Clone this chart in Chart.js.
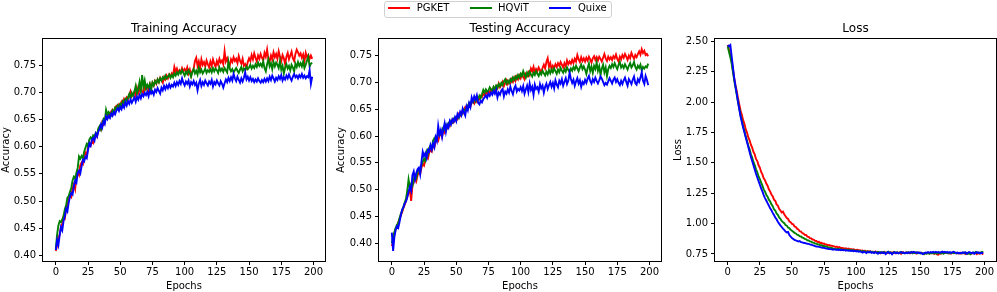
<!DOCTYPE html>
<html><head><meta charset="utf-8">
<script src="https://cdn.jsdelivr.net/npm/chart.js@4.4.1/dist/chart.umd.min.js"></script>
<style>
html,body{margin:0;padding:0;background:#fff;width:997px;height:292px;overflow:hidden;position:relative;}
canvas{position:absolute;top:0;}
#legend{position:absolute;left:384px;top:1px;width:226px;height:15px;border:1px solid #d0d0d0;border-radius:3px;background:#fff;font:10px 'DejaVu Sans',sans-serif;}
.ln{position:absolute;top:5px;width:22px;height:2px;}
.lt{position:absolute;top:0px;line-height:12px;color:#000;white-space:nowrap;}
</style></head><body>
<canvas id="c1" width="335" height="292" style="left:0px"></canvas>
<canvas id="c2" width="337" height="292" style="left:335px"></canvas>
<canvas id="c3" width="325" height="292" style="left:672px"></canvas>
<div id="legend"></div>
<script>
// ---------- DATA ----------
const epochs = Array.from({length: 200}, (_, i) => i);
const seriesNames = ['PGKET', 'HQViT', 'Quixe'];
const seriesColors = ['#ff0000', '#008000', '#0000ff'];
const xTicks = [0, 25, 50, 75, 100, 125, 150, 175, 200];
const accTicks = [0.40, 0.45, 0.50, 0.55, 0.60, 0.65, 0.70, 0.75];
const lossTicks = [0.75, 1.00, 1.25, 1.50, 1.75, 2.00, 2.25, 2.50];

const trainPGKET = [
0.408,0.418,0.432,0.438,0.452,0.458,0.471,0.468,0.486,0.492,
0.503,0.512,0.508,0.524,0.531,0.522,0.545,0.553,0.548,0.566,
0.571,0.568,0.582,0.589,0.585,0.598,0.605,0.602,0.611,0.607,
0.615,0.624,0.619,0.631,0.637,0.632,0.645,0.641,0.649,0.655,
0.652,0.661,0.656,0.665,0.668,0.662,0.671,0.675,0.672,0.678,
0.676,0.683,0.679,0.688,0.684,0.691,0.688,0.695,0.702,0.693,
0.697,0.701,0.694,0.708,0.698,0.704,0.711,0.702,0.699,0.709,
0.706,0.712,0.704,0.715,0.709,0.718,0.713,0.721,0.716,0.724,
0.719,0.727,0.722,0.718,0.728,0.724,0.731,0.726,0.733,0.729,
0.735,0.731,0.747,0.738,0.744,0.736,0.741,0.737,0.745,0.739,
0.743,0.738,0.746,0.735,0.742,0.731,0.739,0.744,0.758,0.764,
0.749,0.757,0.745,0.761,0.751,0.756,0.748,0.759,0.752,0.746,
0.757,0.749,0.761,0.753,0.747,0.758,0.751,0.762,0.755,0.759,
0.752,0.776,0.757,0.763,0.754,0.749,0.761,0.756,0.765,0.758,
0.762,0.754,0.767,0.758,0.753,0.762,0.749,0.752,0.746,0.756,
0.763,0.758,0.769,0.761,0.772,0.764,0.757,0.768,0.762,0.771,
0.764,0.759,0.773,0.766,0.779,0.762,0.757,0.768,0.761,0.774,
0.765,0.771,0.762,0.776,0.766,0.758,0.769,0.763,0.752,0.766,
0.773,0.761,0.768,0.775,0.763,0.758,0.771,0.779,0.774,0.768,
0.772,0.764,0.770,0.757,0.773,0.765,0.769,0.762,0.768,0.762];
const trainHQViT = [
0.412,0.438,0.455,0.463,0.461,0.466,0.472,0.485,0.492,0.506,
0.509,0.517,0.524,0.538,0.545,0.542,0.552,0.561,0.582,0.578,
0.583,0.579,0.591,0.598,0.605,0.601,0.613,0.617,0.614,0.621,
0.619,0.625,0.622,0.634,0.638,0.632,0.643,0.651,0.647,0.668,
0.659,0.664,0.661,0.658,0.667,0.664,0.672,0.669,0.676,0.673,
0.679,0.675,0.684,0.681,0.688,0.685,0.691,0.697,0.689,0.699,
0.694,0.702,0.712,0.698,0.706,0.719,0.703,0.732,0.711,0.722,
0.707,0.714,0.709,0.716,0.705,0.718,0.713,0.721,0.717,0.724,
0.719,0.726,0.722,0.728,0.725,0.731,0.726,0.729,0.733,0.727,
0.732,0.728,0.735,0.731,0.737,0.733,0.739,0.735,0.741,0.736,
0.731,0.738,0.734,0.741,0.736,0.729,0.738,0.743,0.735,0.740,
0.733,0.745,0.737,0.742,0.735,0.739,0.744,0.736,0.741,0.738,
0.743,0.737,0.745,0.739,0.744,0.741,0.736,0.746,0.740,0.744,
0.738,0.745,0.741,0.737,0.757,0.744,0.739,0.743,0.737,0.741,
0.745,0.740,0.736,0.742,0.747,0.739,0.744,0.741,0.748,0.743,
0.746,0.751,0.744,0.749,0.745,0.752,0.747,0.755,0.749,0.753,
0.748,0.757,0.745,0.739,0.752,0.761,0.748,0.754,0.743,0.756,
0.748,0.755,0.751,0.745,0.758,0.742,0.749,0.735,0.746,0.752,
0.744,0.749,0.741,0.751,0.746,0.739,0.753,0.747,0.756,0.749,
0.754,0.748,0.757,0.745,0.751,0.759,0.766,0.748,0.753,0.755];
const trainQuixe = [
0.410,0.428,0.419,0.437,0.452,0.446,0.463,0.472,0.486,0.481,
0.497,0.508,0.515,0.512,0.527,0.538,0.534,0.552,0.556,0.551,
0.564,0.576,0.573,0.582,0.579,0.594,0.606,0.602,0.613,0.616,
0.611,0.624,0.619,0.628,0.633,0.641,0.635,0.647,0.642,0.656,
0.651,0.657,0.653,0.661,0.657,0.664,0.660,0.667,0.671,0.666,
0.673,0.669,0.677,0.672,0.682,0.676,0.684,0.679,0.687,0.681,
0.686,0.691,0.683,0.692,0.687,0.695,0.689,0.697,0.693,0.699,
0.695,0.701,0.693,0.704,0.698,0.702,0.696,0.705,0.701,0.708,
0.703,0.698,0.709,0.704,0.712,0.706,0.713,0.708,0.715,0.709,
0.714,0.711,0.718,0.712,0.719,0.714,0.721,0.716,0.726,0.718,
0.713,0.720,0.716,0.722,0.711,0.719,0.715,0.721,0.714,0.718,
0.704,0.716,0.723,0.712,0.719,0.714,0.722,0.717,0.713,0.720,
0.716,0.723,0.711,0.719,0.715,0.722,0.717,0.713,0.721,0.716,
0.709,0.717,0.724,0.719,0.727,0.721,0.728,0.722,0.734,0.726,
0.721,0.729,0.723,0.718,0.726,0.720,0.727,0.737,0.724,0.729,
0.722,0.728,0.721,0.725,0.719,0.724,0.720,0.726,0.721,0.718,
0.723,0.719,0.725,0.720,0.726,0.721,0.729,0.723,0.731,0.726,
0.720,0.727,0.723,0.730,0.725,0.732,0.722,0.728,0.724,0.731,
0.726,0.733,0.727,0.722,0.729,0.734,0.728,0.731,0.726,0.732,
0.728,0.734,0.727,0.731,0.726,0.730,0.728,0.741,0.716,0.729];

const testPGKET = [
0.395,0.402,0.418,0.427,0.431,0.439,0.445,0.452,0.458,0.466,
0.472,0.479,0.487,0.494,0.501,0.479,0.508,0.514,0.523,0.516,
0.527,0.532,0.529,0.541,0.548,0.545,0.556,0.561,0.558,0.569,
0.574,0.571,0.582,0.579,0.589,0.594,0.591,0.601,0.604,0.598,
0.612,0.607,0.618,0.615,0.623,0.619,0.627,0.631,0.626,0.633,
0.636,0.632,0.641,0.638,0.645,0.642,0.649,0.654,0.651,0.657,
0.659,0.655,0.662,0.666,0.661,0.668,0.664,0.672,0.669,0.675,
0.673,0.679,0.676,0.682,0.678,0.684,0.681,0.687,0.683,0.691,
0.686,0.693,0.689,0.698,0.691,0.695,0.701,0.693,0.699,0.704,
0.697,0.703,0.699,0.706,0.701,0.709,0.703,0.711,0.706,0.713,
0.708,0.715,0.711,0.706,0.716,0.712,0.719,0.714,0.726,0.721,
0.729,0.718,0.725,0.721,0.728,0.723,0.719,0.727,0.733,0.726,
0.738,0.745,0.729,0.736,0.724,0.731,0.727,0.734,0.729,0.736,
0.731,0.738,0.733,0.728,0.736,0.730,0.741,0.734,0.739,0.735,
0.742,0.736,0.744,0.739,0.751,0.743,0.738,0.747,0.740,0.745,
0.739,0.746,0.741,0.748,0.743,0.737,0.745,0.749,0.742,0.747,
0.741,0.748,0.744,0.739,0.746,0.753,0.745,0.740,0.748,0.743,
0.747,0.742,0.749,0.745,0.752,0.744,0.739,0.748,0.743,0.751,
0.746,0.753,0.748,0.742,0.750,0.745,0.755,0.749,0.744,0.751,
0.747,0.753,0.758,0.752,0.762,0.755,0.759,0.751,0.753,0.749];
const testHQViT = [
0.400,0.412,0.421,0.429,0.434,0.438,0.447,0.455,0.461,0.468,
0.476,0.483,0.498,0.519,0.504,0.511,0.507,0.521,0.527,0.522,
0.533,0.538,0.534,0.546,0.552,0.558,0.554,0.571,0.566,0.578,
0.582,0.577,0.591,0.596,0.592,0.599,0.603,0.608,0.604,0.611,
0.616,0.612,0.621,0.617,0.624,0.621,0.628,0.625,0.632,0.629,
0.635,0.638,0.634,0.642,0.639,0.645,0.649,0.646,0.652,0.656,
0.662,0.658,0.666,0.663,0.671,0.665,0.673,0.668,0.675,0.671,
0.678,0.686,0.681,0.687,0.683,0.685,0.691,0.687,0.684,0.692,
0.688,0.694,0.690,0.697,0.693,0.699,0.695,0.702,0.706,0.698,
0.703,0.699,0.706,0.702,0.709,0.705,0.711,0.707,0.714,0.709,
0.716,0.712,0.721,0.714,0.709,0.718,0.713,0.720,0.715,0.711,
0.718,0.714,0.721,0.716,0.712,0.719,0.715,0.722,0.717,0.713,
0.720,0.715,0.723,0.717,0.724,0.719,0.726,0.721,0.716,0.724,
0.719,0.727,0.722,0.718,0.725,0.720,0.728,0.723,0.719,0.726,
0.722,0.729,0.724,0.731,0.726,0.721,0.728,0.733,0.725,0.730,
0.724,0.716,0.727,0.735,0.721,0.729,0.718,0.731,0.725,0.737,
0.722,0.730,0.714,0.726,0.733,0.719,0.728,0.712,0.725,0.731,
0.727,0.734,0.729,0.736,0.730,0.725,0.733,0.738,0.728,0.732,
0.727,0.734,0.729,0.724,0.731,0.736,0.728,0.732,0.738,0.729,
0.724,0.731,0.727,0.733,0.722,0.729,0.726,0.730,0.728,0.735];
const testQuixe = [
0.420,0.386,0.412,0.425,0.432,0.429,0.440,0.452,0.463,0.467,
0.474,0.478,0.486,0.496,0.505,0.498,0.527,0.534,0.519,0.531,
0.538,0.541,0.529,0.552,0.571,0.563,0.568,0.559,0.574,0.571,
0.583,0.575,0.586,0.579,0.598,0.591,0.619,0.603,0.611,0.598,
0.612,0.624,0.608,0.621,0.616,0.628,0.622,0.631,0.627,0.635,
0.628,0.641,0.636,0.645,0.639,0.651,0.644,0.638,0.655,0.648,
0.661,0.654,0.672,0.665,0.674,0.668,0.676,0.662,0.659,0.666,
0.663,0.669,0.672,0.676,0.671,0.679,0.675,0.681,0.677,0.684,
0.679,0.686,0.672,0.681,0.677,0.685,0.688,0.674,0.683,0.679,
0.687,0.681,0.692,0.684,0.678,0.689,0.694,0.683,0.688,0.685,
0.691,0.684,0.693,0.679,0.687,0.694,0.682,0.698,0.686,0.692,
0.677,0.696,0.688,0.691,0.683,0.697,0.689,0.694,0.681,0.692,
0.698,0.688,0.695,0.701,0.692,0.699,0.689,0.704,0.696,0.691,
0.703,0.698,0.706,0.694,0.701,0.708,0.697,0.703,0.718,0.707,
0.699,0.705,0.694,0.702,0.708,0.698,0.704,0.692,0.701,0.697,
0.705,0.699,0.707,0.712,0.703,0.698,0.706,0.701,0.709,0.703,
0.698,0.704,0.711,0.707,0.701,0.695,0.699,0.696,0.702,0.708,
0.703,0.698,0.705,0.709,0.701,0.706,0.699,0.695,0.703,0.697,
0.704,0.709,0.701,0.694,0.706,0.702,0.697,0.705,0.711,0.699,
0.696,0.706,0.701,0.709,0.719,0.703,0.697,0.712,0.705,0.695];

const lossPGKET = [
2.47,2.43,2.39,2.34,2.27,2.20,2.14,2.09,2.03,1.98,
1.93,1.895,1.85,1.82,1.775,1.75,1.71,1.685,1.65,1.625,
1.59,1.57,1.532,1.515,1.48,1.46,1.425,1.405,1.372,1.358,
1.33,1.312,1.282,1.265,1.24,1.225,1.197,1.188,1.158,1.148,
1.122,1.108,1.092,1.098,1.076,1.061,1.046,1.038,1.017,1.011,
0.998,0.994,0.977,0.972,0.958,0.951,0.937,0.934,0.922,0.918,
0.907,0.906,0.893,0.891,0.881,0.878,0.869,0.868,0.858,0.857,
0.849,0.85,0.841,0.842,0.834,0.836,0.828,0.829,0.822,0.824,
0.818,0.818,0.815,0.812,0.807,0.811,0.802,0.807,0.799,0.8,
0.798,0.794,0.797,0.79,0.795,0.788,0.791,0.785,0.789,0.783,
0.783,0.785,0.779,0.781,0.776,0.778,0.774,0.776,0.771,0.773,
0.77,0.772,0.766,0.769,0.764,0.771,0.762,0.767,0.76,0.755,
0.764,0.758,0.767,0.761,0.756,0.765,0.759,0.763,0.753,0.766,
0.76,0.755,0.764,0.758,0.762,0.751,0.765,0.759,0.757,0.763,
0.758,0.762,0.755,0.76,0.764,0.757,0.761,0.753,0.759,0.762,
0.756,0.76,0.754,0.749,0.758,0.755,0.761,0.752,0.757,0.76,
0.755,0.751,0.758,0.746,0.744,0.756,0.752,0.758,0.754,0.76,
0.757,0.761,0.755,0.759,0.753,0.758,0.762,0.756,0.76,0.754,
0.758,0.752,0.759,0.755,0.761,0.749,0.757,0.753,0.76,0.756,
0.752,0.758,0.754,0.761,0.748,0.757,0.753,0.759,0.755,0.746];
const lossHQViT = [
2.46,2.41,2.37,2.32,2.25,2.18,2.12,2.06,2.00,1.945,
1.89,1.848,1.797,1.763,1.716,1.683,1.641,1.612,1.571,1.543,
1.508,1.482,1.447,1.423,1.388,1.367,1.337,1.313,1.282,1.263,
1.238,1.222,1.197,1.183,1.158,1.143,1.118,1.108,1.083,1.072,
1.05,1.04,1.022,1.012,1.003,0.988,0.982,0.968,0.961,0.948,
0.941,0.933,0.924,0.919,0.909,0.906,0.897,0.894,0.885,0.882,
0.874,0.871,0.863,0.861,0.853,0.851,0.844,0.843,0.836,0.835,
0.829,0.828,0.822,0.822,0.816,0.816,0.811,0.811,0.805,0.804,
0.80,0.799,0.796,0.794,0.791,0.79,0.792,0.787,0.789,0.786,
0.785,0.783,0.787,0.781,0.784,0.779,0.782,0.777,0.78,0.776,
0.775,0.778,0.772,0.776,0.77,0.774,0.768,0.772,0.766,0.771,
0.765,0.77,0.763,0.768,0.762,0.766,0.76,0.767,0.761,0.765,
0.759,0.766,0.762,0.757,0.764,0.769,0.758,0.763,0.756,0.761,
0.765,0.759,0.763,0.757,0.762,0.766,0.758,0.761,0.755,0.76,
0.764,0.758,0.761,0.767,0.756,0.762,0.758,0.763,0.757,0.761,
0.755,0.76,0.754,0.749,0.757,0.752,0.758,0.753,0.759,0.755,
0.76,0.754,0.758,0.752,0.757,0.761,0.755,0.759,0.753,0.758,
0.762,0.756,0.76,0.754,0.758,0.763,0.757,0.761,0.755,0.759,
0.756,0.76,0.754,0.758,0.762,0.755,0.759,0.751,0.757,0.748,
0.756,0.762,0.757,0.766,0.759,0.763,0.756,0.761,0.768,0.763];
const lossQuixe = [
2.47,2.46,2.47,2.38,2.29,2.20,2.13,2.07,2.00,1.94,
1.88,1.835,1.79,1.75,1.71,1.67,1.63,1.59,1.55,1.515,
1.48,1.445,1.41,1.38,1.35,1.32,1.29,1.265,1.235,1.21,
1.19,1.168,1.148,1.127,1.11,1.088,1.07,1.051,1.035,1.016,
1.00,0.985,0.972,0.958,0.948,0.935,0.928,0.932,0.905,0.892,
0.882,0.874,0.866,0.861,0.857,0.852,0.856,0.848,0.845,0.842,
0.84,0.837,0.834,0.833,0.829,0.826,0.822,0.819,0.815,0.811,
0.81,0.808,0.806,0.803,0.801,0.80,0.797,0.795,0.793,0.791,
0.79,0.788,0.785,0.789,0.784,0.787,0.782,0.786,0.781,0.784,
0.78,0.783,0.777,0.781,0.776,0.779,0.774,0.778,0.773,0.776,
0.77,0.774,0.768,0.772,0.766,0.761,0.769,0.764,0.758,0.767,
0.762,0.768,0.759,0.764,0.757,0.765,0.76,0.752,0.763,0.758,
0.764,0.757,0.762,0.749,0.76,0.766,0.755,0.761,0.747,0.759,
0.763,0.756,0.761,0.754,0.76,0.765,0.758,0.762,0.756,0.761,
0.757,0.763,0.759,0.766,0.761,0.768,0.762,0.758,0.764,0.757,
0.761,0.755,0.749,0.758,0.762,0.759,0.765,0.76,0.766,0.761,
0.767,0.762,0.768,0.763,0.766,0.76,0.764,0.769,0.763,0.767,
0.762,0.766,0.761,0.765,0.759,0.764,0.768,0.762,0.757,0.761,
0.755,0.76,0.757,0.763,0.758,0.764,0.752,0.759,0.765,0.761,
0.756,0.762,0.752,0.759,0.765,0.758,0.761,0.754,0.76,0.757];

// ---------- DRAWING ----------
Chart.defaults.font.family = "'DejaVu Sans', sans-serif";
Chart.defaults.color = '#000';

const framePlugin = {
  id: 'frame',
  afterDraw(chart) {
    const {ctx, chartArea: a} = chart;
    ctx.save();
    ctx.strokeStyle = '#000';
    ctx.lineWidth = 1;
    const x0 = Math.round(a.left) - 0.5, y0 = Math.round(a.top) - 0.5;
    const x1 = Math.round(a.right) + 0.5, y1 = Math.round(a.bottom) + 0.5;
    ctx.strokeRect(x0, y0, x1 - x0, y1 - y0);
    ctx.restore();
  }
};

function makeChart(id, title, yLabel, series, yMin, yMax, yTicks, yWidth, padRight) {
  // draw order: first listed series at the bottom, last on top
  const datasets = series.map((d, i) => ({
    label: seriesNames[i],
    data: d,
    borderColor: seriesColors[i],
    backgroundColor: seriesColors[i],
    borderWidth: 1.9,
    pointRadius: 0,
    tension: 0,
    fill: false,
    order: series.length - i
  }));
  return new Chart(document.getElementById(id), {
    type: 'line',
    data: {labels: epochs, datasets},
    options: {
      responsive: false,
      animation: false,
      devicePixelRatio: 1,
      events: [],
      layout: {padding: {left: 0, right: padRight, top: 0, bottom: 0}},
      plugins: {
        legend: {display: false},
        tooltip: {enabled: false},
        title: {
          display: true, text: title, fullSize: false, color: '#000',
          font: {size: 12, weight: 'normal', lineHeight: 1.2},
          padding: {top: 22, bottom: 2.6}
        }
      },
      scales: {
        x: {
          type: 'linear', min: -9.95, max: 208.95,
          afterBuildTicks: s => { s.ticks = xTicks.map(v => ({value: v})); },
          afterFit: s => { s.height = 31; },
          grid: {display: true, drawOnChartArea: false, drawTicks: true, tickLength: 4, color: '#000', lineWidth: 1},
          border: {display: false},
          ticks: {padding: 1.5, color: '#000', font: {size: 10}, maxRotation: 0, autoSkip: false, callback: v => String(v)},
          title: {display: true, text: 'Epochs', color: '#000', font: {size: 10, lineHeight: 1.2}, padding: {top: 0, bottom: 0}}
        },
        y: {
          type: 'linear', min: yMin, max: yMax,
          afterBuildTicks: s => { s.ticks = yTicks.map(v => ({value: v})); },
          afterFit: s => { s.width = yWidth; },
          grid: {display: true, drawOnChartArea: false, drawTicks: true, tickLength: 4, color: '#000', lineWidth: 1},
          border: {display: false},
          ticks: {padding: 3, color: '#000', font: {size: 10}, autoSkip: false, callback: v => v.toFixed(2)},
          title: {display: true, text: yLabel, color: '#000', font: {size: 10, lineHeight: 1.2}, padding: {top: 0, bottom: 0}}
        }
      }
    },
    plugins: [framePlugin]
  });
}

makeChart('c1', 'Training Accuracy', 'Accuracy', [trainPGKET, trainHQViT, trainQuixe], 0.3895, 0.7985, accTicks, 43, 10);
makeChart('c2', 'Testing Accuracy', 'Accuracy', [testPGKET, testHQViT, testQuixe], 0.367, 0.781, accTicks, 44, 11);
makeChart('c3', 'Loss', 'Loss', [lossPGKET, lossHQViT, lossQuixe], 0.692, 2.52, lossTicks, 43, 1);

// legend (HTML, built from the series names/colours)
const legendPos = [[3, 31.7], [85, 113], [164, 193]];
const lg = document.getElementById('legend');
seriesNames.forEach((n, i) => {
  const l = document.createElement('div');
  l.className = 'ln';
  l.style.left = legendPos[i][0] + 'px';
  l.style.background = seriesColors[i];
  lg.appendChild(l);
  const t = document.createElement('span');
  t.className = 'lt';
  t.style.left = legendPos[i][1] + 'px';
  t.textContent = n;
  lg.appendChild(t);
});
</script>
</body></html>
